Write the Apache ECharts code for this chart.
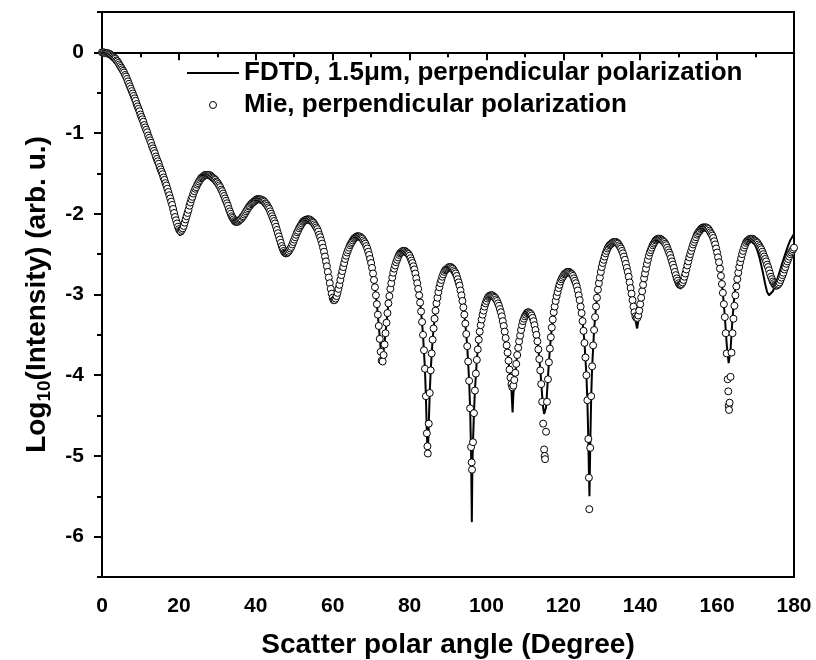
<!DOCTYPE html>
<html>
<head>
<meta charset="utf-8">
<script src="https://cdn.jsdelivr.net/npm/echarts@6/dist/echarts.min.js"></script>
<style>html,body{margin:0;padding:0;background:#fff}#c{width:816px;height:660px}</style>
</head>
<body>
<div id="c"></div>
<script>
// Tick values
const xTicks = [0, 20, 40, 60, 80, 100, 120, 140, 160, 180];
const yMajor = [0, -1, -2, -3, -4, -5, -6];
const yMinor = [0.5, -0.5, -1.5, -2.5, -3.5, -4.5, -5.5, -6.5];
const seriesNames = ['FDTD, 1.5\u03bcm, perpendicular polarization', 'Mie, perpendicular polarization'];

// Mie, perpendicular polarization: [angle (deg), log10 intensity]
const mie = [
[0,0],[0.25,0],[0.5,0],[0.75,-0.01],[1,-0.01],[1.25,-0.01],[1.5,-0.01],[1.75,-0.02],[2,-0.02],[2.25,-0.03],
[2.5,-0.04],[2.75,-0.05],[3,-0.06],[3.25,-0.07],[3.5,-0.08],[3.75,-0.10],[4,-0.11],[4.25,-0.13],[4.5,-0.15],[4.75,-0.17],
[5,-0.19],[5.25,-0.21],[5.5,-0.23],[5.75,-0.25],[6,-0.28],[6.25,-0.30],[6.5,-0.33],[6.75,-0.36],[7,-0.39],[7.25,-0.42],
[7.5,-0.45],[7.75,-0.48],[8,-0.51],[8.25,-0.54],[8.5,-0.57],[8.75,-0.60],[9,-0.64],[9.25,-0.67],[9.5,-0.70],[9.75,-0.73],
[10,-0.77],[10.25,-0.80],[10.5,-0.83],[10.75,-0.86],[11,-0.90],[11.25,-0.93],[11.5,-0.96],[11.75,-0.99],[12,-1.03],[12.25,-1.06],
[12.5,-1.09],[12.75,-1.12],[13,-1.16],[13.25,-1.19],[13.5,-1.22],[13.75,-1.25],[14,-1.29],[14.25,-1.32],[14.5,-1.35],[14.75,-1.38],
[15,-1.42],[15.25,-1.45],[15.5,-1.48],[15.75,-1.51],[16,-1.55],[16.25,-1.58],[16.5,-1.62],[16.75,-1.65],[17,-1.69],[17.25,-1.73],
[17.5,-1.77],[17.75,-1.81],[18,-1.85],[18.25,-1.89],[18.5,-1.94],[18.75,-1.99],[19,-2.04],[19.25,-2.08],[19.5,-2.12],[19.75,-2.16],
[20,-2.19],[20.25,-2.21],[20.5,-2.22],[20.75,-2.20],[21,-2.18],[21.25,-2.15],[21.5,-2.11],[21.75,-2.07],[22,-2.03],[22.25,-1.99],
[22.5,-1.95],[22.75,-1.90],[23,-1.86],[23.25,-1.82],[23.5,-1.79],[23.75,-1.75],[24,-1.72],[24.25,-1.69],[24.5,-1.67],[24.75,-1.64],
[25,-1.62],[25.25,-1.60],[25.5,-1.58],[25.75,-1.56],[26,-1.55],[26.25,-1.54],[26.5,-1.53],[26.75,-1.52],[27,-1.52],[27.25,-1.52],
[27.5,-1.52],[27.75,-1.52],[28,-1.52],[28.25,-1.53],[28.5,-1.54],[28.75,-1.55],[29,-1.56],[29.25,-1.57],[29.5,-1.58],[29.75,-1.60],
[30,-1.61],[30.25,-1.63],[30.5,-1.65],[30.75,-1.67],[31,-1.70],[31.25,-1.72],[31.5,-1.75],[31.75,-1.78],[32,-1.81],[32.25,-1.84],
[32.5,-1.87],[32.75,-1.90],[33,-1.94],[33.25,-1.97],[33.5,-2.00],[33.75,-2.03],[34,-2.05],[34.25,-2.07],[34.5,-2.09],[34.75,-2.10],
[35,-2.10],[35.25,-2.10],[35.5,-2.09],[35.75,-2.08],[36,-2.07],[36.25,-2.06],[36.5,-2.04],[36.75,-2.03],[37,-2.01],[37.25,-1.99],
[37.5,-1.97],[37.75,-1.95],[38,-1.93],[38.25,-1.91],[38.5,-1.90],[38.75,-1.88],[39,-1.87],[39.25,-1.86],[39.5,-1.85],[39.75,-1.84],
[40,-1.83],[40.25,-1.82],[40.5,-1.82],[40.75,-1.82],[41,-1.82],[41.25,-1.82],[41.5,-1.83],[41.75,-1.83],[42,-1.84],[42.25,-1.85],
[42.5,-1.87],[42.75,-1.88],[43,-1.90],[43.25,-1.92],[43.5,-1.94],[43.75,-1.97],[44,-2.00],[44.25,-2.03],[44.5,-2.06],[44.75,-2.09],
[45,-2.12],[45.25,-2.16],[45.5,-2.20],[45.75,-2.24],[46,-2.28],[46.25,-2.32],[46.5,-2.36],[46.75,-2.40],[47,-2.43],[47.25,-2.46],
[47.5,-2.48],[47.75,-2.49],[48,-2.49],[48.25,-2.48],[48.5,-2.47],[48.75,-2.45],[49,-2.43],[49.25,-2.41],[49.5,-2.38],[49.75,-2.35],
[50,-2.32],[50.25,-2.29],[50.5,-2.26],[50.75,-2.23],[51,-2.21],[51.25,-2.18],[51.5,-2.16],[51.75,-2.14],[52,-2.12],[52.25,-2.10],
[52.5,-2.09],[52.75,-2.08],[53,-2.08],[53.25,-2.07],[53.5,-2.07],[53.75,-2.07],[54,-2.07],[54.25,-2.08],[54.5,-2.09],[54.75,-2.10],
[55,-2.11],[55.25,-2.13],[55.5,-2.15],[55.75,-2.17],[56,-2.19],[56.25,-2.22],[56.5,-2.26],[56.75,-2.29],[57,-2.33],[57.25,-2.37],
[57.5,-2.42],[57.75,-2.47],[58,-2.53],[58.25,-2.59],[58.5,-2.65],[58.75,-2.72],[59,-2.79],[59.25,-2.86],[59.5,-2.93],[59.75,-2.99],
[60,-3.04],[60.25,-3.07],[60.5,-3.07],[60.75,-3.05],[61,-3.02],[61.25,-2.98],[61.5,-2.93],[61.75,-2.88],[62,-2.82],[62.25,-2.76],
[62.5,-2.71],[62.75,-2.66],[63,-2.61],[63.25,-2.56],[63.5,-2.52],[63.75,-2.48],[64,-2.45],[64.25,-2.42],[64.5,-2.39],[64.75,-2.37],
[65,-2.35],[65.25,-2.33],[65.5,-2.31],[65.75,-2.30],[66,-2.29],[66.25,-2.28],[66.5,-2.28],[66.75,-2.28],[67,-2.28],[67.25,-2.29],
[67.5,-2.30],[67.75,-2.31],[68,-2.33],[68.25,-2.35],[68.5,-2.37],[68.75,-2.40],[69,-2.43],[69.25,-2.47],[69.5,-2.51],[69.75,-2.56],
[70,-2.61],[70.25,-2.67],[70.5,-2.74],[70.75,-2.82],[71,-2.91],[71.25,-3.01],[71.5,-3.12],[71.75,-3.25],[72,-3.39],[72.25,-3.55],
[72.5,-3.71],[72.75,-3.82],[73,-3.83],[73.25,-3.75],[73.5,-3.62],[73.75,-3.48],[74,-3.35],[74.25,-3.23],[74.5,-3.11],[74.75,-3.02],
[75,-2.93],[75.25,-2.86],[75.5,-2.79],[75.75,-2.73],[76,-2.68],[76.25,-2.64],[76.5,-2.60],[76.75,-2.57],[77,-2.54],[77.25,-2.51],
[77.5,-2.49],[77.75,-2.48],[78,-2.47],[78.25,-2.46],[78.5,-2.46],[78.75,-2.46],[79,-2.47],[79.25,-2.48],[79.5,-2.49],[79.75,-2.50],
[80,-2.52],[80.25,-2.55],[80.5,-2.58],[80.75,-2.61],[81,-2.65],[81.25,-2.69],[81.5,-2.74],[81.75,-2.80],[82,-2.86],[82.25,-2.93],
[82.5,-3.01],[82.75,-3.10],[83,-3.21],[83.25,-3.34],[83.5,-3.50],[83.75,-3.69],[84,-3.92],[84.25,-4.26],[84.5,-4.72],[84.65,-4.88],
[84.75,-4.97],[85,-4.60],[85.25,-4.22],[85.5,-3.94],[85.75,-3.73],[86,-3.56],[86.25,-3.42],[86.5,-3.30],[86.75,-3.20],[87,-3.11],
[87.25,-3.04],[87.5,-2.97],[87.75,-2.91],[88,-2.86],[88.25,-2.82],[88.5,-2.78],[88.75,-2.75],[89,-2.72],[89.25,-2.70],[89.5,-2.69],
[89.75,-2.68],[90,-2.67],[90.25,-2.66],[90.5,-2.66],[90.75,-2.66],[91,-2.67],[91.25,-2.68],[91.5,-2.70],[91.75,-2.72],[92,-2.74],
[92.25,-2.77],[92.5,-2.81],[92.75,-2.85],[93,-2.89],[93.25,-2.95],[93.5,-3.01],[93.75,-3.08],[94,-3.16],[94.25,-3.25],[94.5,-3.36],
[94.75,-3.49],[95,-3.64],[95.25,-3.83],[95.5,-4.07],[95.75,-4.41],[96,-4.89],[96.15,-5.08],[96.25,-5.17],[96.5,-4.83],[96.75,-4.47],
[97,-4.19],[97.25,-3.98],[97.5,-3.81],[97.75,-3.68],[98,-3.56],[98.25,-3.46],[98.5,-3.38],[98.75,-3.31],[99,-3.25],[99.25,-3.20],
[99.5,-3.15],[99.75,-3.11],[100,-3.08],[100.25,-3.05],[100.5,-3.03],[100.75,-3.02],[101,-3.01],[101.25,-3.01],[101.5,-3.01],[101.75,-3.02],
[102,-3.03],[102.25,-3.04],[102.5,-3.06],[102.75,-3.08],[103,-3.11],[103.25,-3.14],[103.5,-3.18],[103.75,-3.22],[104,-3.27],[104.25,-3.33],
[104.5,-3.39],[104.75,-3.46],[105,-3.54],[105.25,-3.63],[105.5,-3.72],[105.75,-3.82],[106,-3.93],[106.25,-4.03],[106.5,-4.11],[106.75,-4.15],
[107,-4.13],[107.25,-4.06],[107.5,-3.97],[107.75,-3.86],[108,-3.75],[108.25,-3.66],[108.5,-3.58],[108.75,-3.51],[109,-3.44],[109.25,-3.38],
[109.5,-3.33],[109.75,-3.30],[110,-3.27],[110.25,-3.25],[110.5,-3.23],[110.75,-3.22],[111,-3.22],[111.25,-3.23],[111.5,-3.24],[111.75,-3.26],
[112,-3.29],[112.25,-3.33],[112.5,-3.38],[112.75,-3.44],[113,-3.50],[113.25,-3.58],[113.5,-3.68],[113.75,-3.80],[114,-3.94],[114.25,-4.11],
[114.5,-4.33],[114.75,-4.60],[115,-4.92],[115.15,-5.00],[115.25,-5.04],[115.5,-4.70],[115.75,-4.33],[116,-4.05],[116.25,-3.84],[116.5,-3.67],
[116.75,-3.53],[117,-3.41],[117.25,-3.31],[117.5,-3.22],[117.75,-3.15],[118,-3.08],[118.25,-3.02],[118.5,-2.97],[118.75,-2.92],[119,-2.88],
[119.25,-2.84],[119.5,-2.81],[119.75,-2.79],[120,-2.77],[120.25,-2.75],[120.5,-2.74],[120.75,-2.73],[121,-2.72],[121.25,-2.72],[121.5,-2.72],
[121.75,-2.73],[122,-2.74],[122.25,-2.75],[122.5,-2.77],[122.75,-2.80],[123,-2.83],[123.25,-2.86],[123.5,-2.90],[123.75,-2.95],[124,-3.01],
[124.25,-3.07],[124.5,-3.15],[124.75,-3.23],[125,-3.33],[125.25,-3.45],[125.5,-3.60],[125.75,-3.78],[126,-4.00],[126.25,-4.31],[126.5,-4.79],
[126.65,-5.27],[126.75,-5.66],[127,-4.90],[127.25,-4.26],[127.5,-3.89],[127.75,-3.63],[128,-3.44],[128.25,-3.28],[128.5,-3.15],[128.75,-3.04],
[129,-2.94],[129.25,-2.86],[129.5,-2.79],[129.75,-2.72],[130,-2.66],[130.25,-2.61],[130.5,-2.57],[130.75,-2.53],[131,-2.49],[131.25,-2.46],
[131.5,-2.43],[131.75,-2.41],[132,-2.39],[132.25,-2.38],[132.5,-2.37],[132.75,-2.36],[133,-2.35],[133.25,-2.35],[133.5,-2.35],[133.75,-2.35],
[134,-2.36],[134.25,-2.37],[134.5,-2.39],[134.75,-2.41],[135,-2.43],[135.25,-2.46],[135.5,-2.49],[135.75,-2.53],[136,-2.57],[136.25,-2.62],
[136.5,-2.67],[136.75,-2.72],[137,-2.78],[137.25,-2.85],[137.5,-2.92],[137.75,-2.99],[138,-3.07],[138.25,-3.15],[138.5,-3.22],[138.75,-3.27],
[139,-3.29],[139.25,-3.29],[139.5,-3.26],[139.75,-3.20],[140,-3.12],[140.25,-3.04],[140.5,-2.96],[140.75,-2.88],[141,-2.80],[141.25,-2.74],
[141.5,-2.68],[141.75,-2.62],[142,-2.57],[142.25,-2.52],[142.5,-2.48],[142.75,-2.45],[143,-2.42],[143.25,-2.39],[143.5,-2.37],[143.75,-2.35],
[144,-2.33],[144.25,-2.32],[144.5,-2.31],[144.75,-2.31],[145,-2.31],[145.25,-2.31],[145.5,-2.32],[145.75,-2.33],[146,-2.34],[146.25,-2.35],
[146.5,-2.37],[146.75,-2.39],[147,-2.42],[147.25,-2.45],[147.5,-2.48],[147.75,-2.51],[148,-2.55],[148.25,-2.59],[148.5,-2.63],[148.75,-2.67],
[149,-2.72],[149.25,-2.76],[149.5,-2.80],[149.75,-2.83],[150,-2.86],[150.25,-2.88],[150.5,-2.88],[150.75,-2.87],[151,-2.85],[151.25,-2.82],
[151.5,-2.78],[151.75,-2.74],[152,-2.69],[152.25,-2.64],[152.5,-2.59],[152.75,-2.54],[153,-2.50],[153.25,-2.46],[153.5,-2.42],[153.75,-2.38],
[154,-2.35],[154.25,-2.32],[154.5,-2.29],[154.75,-2.26],[155,-2.24],[155.25,-2.22],[155.5,-2.21],[155.75,-2.19],[156,-2.18],[156.25,-2.17],
[156.5,-2.17],[156.75,-2.17],[157,-2.17],[157.25,-2.17],[157.5,-2.18],[157.75,-2.19],[158,-2.21],[158.25,-2.23],[158.5,-2.25],[158.75,-2.27],
[159,-2.30],[159.25,-2.34],[159.5,-2.38],[159.75,-2.43],[160,-2.48],[160.25,-2.54],[160.5,-2.60],[160.75,-2.68],[161,-2.77],[161.25,-2.87],
[161.5,-2.98],[161.75,-3.12],[162,-3.28],[162.25,-3.48],[162.5,-3.73],[162.75,-4.05],[162.9,-4.20],[163,-4.38],[163.1,-4.43],[163.25,-4.34],
[163.5,-4.02],[163.75,-3.72],[164,-3.48],[164.25,-3.30],[164.5,-3.14],[164.75,-3.01],[165,-2.90],[165.25,-2.81],[165.5,-2.73],[165.75,-2.66],
[166,-2.60],[166.25,-2.55],[166.5,-2.50],[166.75,-2.46],[167,-2.42],[167.25,-2.39],[167.5,-2.36],[167.75,-2.34],[168,-2.33],[168.25,-2.32],
[168.5,-2.31],[168.75,-2.31],[169,-2.31],[169.25,-2.31],[169.5,-2.32],[169.75,-2.33],[170,-2.34],[170.25,-2.35],[170.5,-2.36],[170.75,-2.38],
[171,-2.40],[171.25,-2.42],[171.5,-2.44],[171.75,-2.47],[172,-2.50],[172.25,-2.53],[172.5,-2.56],[172.75,-2.59],[173,-2.63],[173.25,-2.66],
[173.5,-2.70],[173.75,-2.74],[174,-2.78],[174.25,-2.81],[174.5,-2.84],[174.75,-2.86],[175,-2.88],[175.25,-2.89],[175.5,-2.89],[175.75,-2.88],
[176,-2.87],[176.25,-2.85],[176.5,-2.82],[176.75,-2.79],[177,-2.76],[177.25,-2.73],[177.5,-2.69],[177.75,-2.66],[178,-2.62],[178.25,-2.59],
[178.5,-2.56],[178.75,-2.53],[179,-2.50],[179.25,-2.48],[179.5,-2.46],[179.75,-2.44],[180,-2.42]
];

// FDTD, 1.5 um, perpendicular polarization: [angle (deg), log10 intensity]
const fdtd = [
[0,0],[0.5,0],[1,-0.01],[1.5,-0.01],[2,-0.02],[2.5,-0.04],[3,-0.06],[3.5,-0.08],[4,-0.11],[4.5,-0.15],
[5,-0.19],[5.5,-0.23],[6,-0.28],[6.5,-0.33],[7,-0.39],[7.5,-0.45],[8,-0.51],[8.5,-0.57],[9,-0.64],[9.5,-0.70],
[10,-0.77],[10.5,-0.83],[11,-0.90],[11.5,-0.96],[12,-1.03],[12.5,-1.09],[13,-1.16],[13.5,-1.22],[14,-1.29],[14.5,-1.35],
[15,-1.42],[15.5,-1.48],[16,-1.55],[16.5,-1.62],[17,-1.69],[17.5,-1.77],[18,-1.85],[18.5,-1.94],[19,-2.04],[19.5,-2.14],
[20,-2.23],[20.3,-2.27],[20.5,-2.26],[21,-2.20],[21.5,-2.12],[22,-2.03],[22.5,-1.95],[23,-1.86],[23.5,-1.79],[24,-1.72],[24.5,-1.67],
[25,-1.62],[25.5,-1.58],[26,-1.55],[26.5,-1.53],[27,-1.52],[27.5,-1.52],[28,-1.52],[28.5,-1.54],[29,-1.56],[29.5,-1.58],
[30,-1.61],[30.5,-1.65],[31,-1.70],[31.5,-1.75],[32,-1.81],[32.5,-1.87],[33,-1.94],[33.5,-2.00],[34,-2.05],[34.5,-2.09],
[35,-2.10],[35.5,-2.09],[36,-2.07],[36.5,-2.04],[37,-2.01],[37.5,-1.97],[38,-1.93],[38.5,-1.90],[39,-1.87],[39.5,-1.85],
[40,-1.83],[40.5,-1.82],[41,-1.82],[41.5,-1.83],[42,-1.84],[42.5,-1.87],[43,-1.90],[43.5,-1.94],[44,-2.00],[44.5,-2.06],
[45,-2.12],[45.5,-2.20],[46,-2.28],[46.5,-2.36],[47,-2.43],[47.5,-2.48],[48,-2.49],[48.5,-2.47],[49,-2.43],[49.5,-2.38],
[50,-2.32],[50.5,-2.26],[51,-2.21],[51.5,-2.16],[52,-2.12],[52.5,-2.09],[53,-2.08],[53.5,-2.07],[54,-2.07],[54.5,-2.09],
[55,-2.11],[55.5,-2.15],[56,-2.19],[56.5,-2.26],[57,-2.33],[57.5,-2.42],[58,-2.53],[58.5,-2.65],[59,-2.79],[59.5,-2.93],
[60,-3.05],[60.5,-3.08],[61,-3.02],[61.5,-2.93],[62,-2.82],[62.5,-2.71],[63,-2.61],[63.5,-2.52],[64,-2.45],[64.5,-2.39],
[65,-2.35],[65.5,-2.31],[66,-2.29],[66.5,-2.28],[67,-2.28],[67.5,-2.30],[68,-2.33],[68.5,-2.37],[69,-2.43],[69.5,-2.51],
[70,-2.61],[70.5,-2.74],[71,-2.91],[71.5,-3.12],[72,-3.39],[72.5,-3.68],[72.9,-3.78],[73.25,-3.70],[73.5,-3.60],[74,-3.35],
[74.5,-3.11],[75,-2.93],[75.5,-2.79],[76,-2.68],[76.5,-2.60],[77,-2.54],[77.5,-2.49],[78,-2.47],[78.5,-2.46],[79,-2.47],
[79.5,-2.49],[80,-2.52],[80.5,-2.58],[81,-2.65],[81.5,-2.74],[82,-2.86],[82.5,-3.01],[83,-3.21],[83.5,-3.50],[84,-3.92],
[84.25,-4.26],[84.5,-4.72],[84.7,-5.00],[84.85,-4.85],[85,-4.60],[85.25,-4.22],[85.5,-3.94],[86,-3.56],[86.5,-3.30],[87,-3.11],
[87.5,-2.97],[88,-2.86],[88.5,-2.78],[89,-2.72],[89.5,-2.69],[90,-2.67],[90.5,-2.66],[91,-2.67],[91.5,-2.70],[92,-2.74],
[92.5,-2.81],[93,-2.89],[93.5,-3.01],[94,-3.16],[94.5,-3.36],[95,-3.64],[95.5,-4.07],[95.75,-4.41],[96,-4.95],[96.2,-5.82],
[96.35,-5.10],[96.5,-4.83],[96.75,-4.47],[97,-4.19],[97.5,-3.81],[98,-3.56],[98.5,-3.38],[99,-3.25],[99.5,-3.15],[100,-3.08],
[100.5,-3.03],[101,-3.01],[101.5,-3.01],[102,-3.03],[102.5,-3.06],[103,-3.11],[103.5,-3.18],[104,-3.27],[104.5,-3.39],[105,-3.54],
[105.5,-3.72],[106,-3.95],[106.5,-4.18],[106.8,-4.46],[107,-4.24],[107.5,-3.98],[108,-3.75],[108.5,-3.58],[109,-3.44],[109.5,-3.33],
[110,-3.27],[110.5,-3.23],[111,-3.22],[111.5,-3.24],[112,-3.29],[112.5,-3.38],[113,-3.50],[113.5,-3.68],[114,-3.92],[114.5,-4.26],
[114.75,-4.40],[115,-4.48],[115.2,-4.50],[115.35,-4.47],[115.5,-4.40],[115.75,-4.22],[116,-4.02],[116.5,-3.67],[117,-3.41],[117.5,-3.22],
[118,-3.08],[118.5,-2.97],[119,-2.88],[119.5,-2.81],[120,-2.77],[120.5,-2.74],[121,-2.72],[121.5,-2.72],[122,-2.74],[122.5,-2.77],
[123,-2.83],[123.5,-2.90],[124,-3.01],[124.5,-3.15],[125,-3.33],[125.5,-3.60],[126,-4.00],[126.25,-4.31],[126.5,-4.79],[126.65,-5.20],
[126.8,-5.50],[127,-4.88],[127.25,-4.26],[127.5,-3.89],[128,-3.44],[128.5,-3.15],[129,-2.94],[129.5,-2.79],[130,-2.66],[130.5,-2.57],
[131,-2.49],[131.5,-2.43],[132,-2.39],[132.5,-2.37],[133,-2.35],[133.5,-2.35],[134,-2.36],[134.5,-2.39],[135,-2.43],[135.5,-2.49],
[136,-2.57],[136.5,-2.67],[137,-2.78],[137.5,-2.92],[138,-3.08],[138.5,-3.24],[139,-3.38],[139.2,-3.42],[139.5,-3.33],[140,-3.14],[140.5,-2.96],
[141,-2.80],[141.5,-2.68],[142,-2.57],[142.5,-2.48],[143,-2.42],[143.5,-2.37],[144,-2.33],[144.5,-2.31],[145,-2.31],[145.5,-2.32],
[146,-2.34],[146.5,-2.37],[147,-2.42],[147.5,-2.48],[148,-2.55],[148.5,-2.63],[149,-2.72],[149.5,-2.81],[150,-2.89],[150.5,-2.93],
[151,-2.88],[151.5,-2.79],[152,-2.69],[152.5,-2.59],[153,-2.50],[153.5,-2.42],[154,-2.35],[154.5,-2.29],[155,-2.24],[155.5,-2.21],
[156,-2.18],[156.5,-2.17],[157,-2.17],[157.5,-2.18],[158,-2.21],[158.5,-2.25],[159,-2.30],[159.5,-2.38],[160,-2.48],[160.5,-2.60],
[161,-2.77],[161.5,-2.98],[162,-3.27],[162.5,-3.62],[163,-3.85],[163.1,-3.87],[163.5,-3.68],[164,-3.30],[164.5,-3.01],[165,-2.79],
[165.5,-2.63],[166,-2.51],[166.5,-2.42],[167,-2.36],[167.5,-2.32],[168,-2.30],[168.5,-2.30],[169,-2.32],[169.5,-2.35],[170,-2.40],
[170.5,-2.46],[171,-2.54],[171.5,-2.64],[172,-2.75],[172.5,-2.87],[173,-2.97],[173.5,-3.01],[174,-3.00],[174.5,-2.96],[175,-2.90],
[175.5,-2.83],[176,-2.76],[176.5,-2.68],[177,-2.60],[177.5,-2.53],[178,-2.46],[178.5,-2.39],[179,-2.33],[179.5,-2.29],[180,-2.25]
];

const FONT = '"Liberation Sans", Arial, Helvetica, sans-serif';
const chart = echarts.init(document.getElementById('c'), null, {renderer: 'canvas'});
const tickLabel = {color: '#000', fontSize: 21, fontWeight: 'bold', fontFamily: FONT};

chart.setOption({
  animation: false,
  backgroundColor: '#fff',
  grid: {left: 102, right: 22, top: 12, bottom: 83, outerBoundsMode: 'none', containLabel: false,
         show: true, borderColor: '#000', borderWidth: 2, backgroundColor: 'transparent'},
  legend: {
    left: 181, top: 55, orient: 'vertical', itemWidth: 52, itemHeight: 7, itemGap: 6,
    selectedMode: false,
    textStyle: {fontSize: 26, fontWeight: 'bold', color: '#000', fontFamily: FONT, lineHeight: 26},
    data: [
      {name: seriesNames[0], itemStyle: {color: 'rgba(0,0,0,0)', borderWidth: 0}, lineStyle: {color: '#000', width: 2}},
      {name: seriesNames[1], icon: 'circle', itemStyle: {color: '#fff', borderColor: '#000', borderWidth: 1}}
    ]
  },
  xAxis: {
    type: 'value', min: xTicks[0], max: xTicks[xTicks.length - 1], interval: 20,
    name: 'Scatter polar angle (Degree)', nameLocation: 'middle', nameGap: 54,
    nameTextStyle: {color: '#000', fontSize: 28, fontWeight: 'bold', fontFamily: FONT},
    axisLine: {show: true, lineStyle: {color: '#000', width: 2}},
    axisTick: {show: true, length: 8, lineStyle: {color: '#000', width: 2}},
    minorTick: {show: true, splitNumber: 2, length: 5, lineStyle: {color: '#000', width: 2}},
    axisLabel: Object.assign({margin: 19}, tickLabel),
    splitLine: {show: false}
  },
  yAxis: [
    {
      type: 'value', min: -6.5, max: 0.5, position: 'left',
      name: '{m|Log}{s|10}{m|(Intensity) (arb. u.)}', nameLocation: 'middle', nameGap: 48, nameRotate: 90,
      nameTextStyle: {
        color: '#000',
        rich: {
          m: {fontSize: 28, fontWeight: 'bold', fontFamily: FONT, color: '#000', lineHeight: 34},
          s: {fontSize: 19, fontWeight: 'bold', fontFamily: FONT, color: '#000', lineHeight: 14, verticalAlign: 'bottom'}
        }
      },
      axisLine: {show: true, lineStyle: {color: '#000', width: 2}},
      axisTick: {show: true, length: 8, lineStyle: {color: '#000', width: 2}, customValues: yMajor},
      axisLabel: Object.assign({margin: 18, customValues: yMajor}, tickLabel),
      splitLine: {show: false}
    },
    {
      type: 'value', min: -6.5, max: 0.5, position: 'left', offset: 0,
      axisLine: {show: false},
      axisTick: {show: true, length: 5, lineStyle: {color: '#000', width: 2}, customValues: yMinor},
      axisLabel: {show: false},
      splitLine: {show: false}
    }
  ],
  series: [
    {
      name: seriesNames[0], type: 'line', data: fdtd, yAxisIndex: 0,
      symbol: 'none', showSymbol: false, smooth: false, z: 2,
      lineStyle: {color: '#000', width: 2}, itemStyle: {color: '#000'}
    },
    {
      name: seriesNames[1], type: 'scatter', data: mie, yAxisIndex: 0,
      symbol: 'circle', symbolSize: 7, z: 3,
      itemStyle: {color: '#fff', borderColor: '#000', borderWidth: 1, opacity: 1}
    }
  ]
});
</script>
</body>
</html>
